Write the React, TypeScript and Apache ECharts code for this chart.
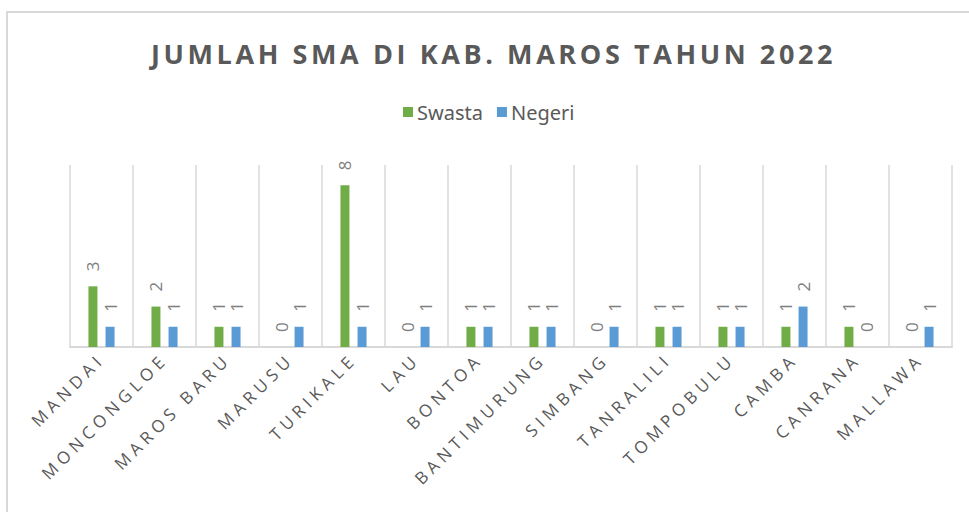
import React, { useEffect, useRef } from "react";
import * as echarts from "echarts";

const titleText = "JUMLAH SMA DI KAB. MAROS TAHUN 2022";
const categories = [
  "MANDAI",
  "MONCONGLOE",
  "MAROS BARU",
  "MARUSU",
  "TURIKALE",
  "LAU",
  "BONTOA",
  "BANTIMURUNG",
  "SIMBANG",
  "TANRALILI",
  "TOMPOBULU",
  "CAMBA",
  "CANRANA",
  "MALLAWA",
];
const swasta = [3, 2, 1, 0, 8, 0, 1, 1, 0, 1, 1, 1, 1, 0];
const negeri = [1, 1, 1, 1, 1, 1, 1, 1, 1, 1, 1, 2, 0, 1];

function applySpacing(el: HTMLElement) {
  const texts = el.querySelectorAll("text");
  texts.forEach((t) => {
    const s = (t.textContent || "").trim();
    if (s === titleText) t.setAttribute("letter-spacing", "3.6");
    else if (categories.indexOf(s) >= 0) t.setAttribute("letter-spacing", "4.8");
  });
}

export default function App() {
  const ref = useRef<HTMLDivElement>(null);
  useEffect(() => {
    if (!ref.current) return;
    const chart = echarts.init(ref.current, undefined, { renderer: "svg" });
    const labelCommon = {
      show: true,
      position: "top" as const,
      rotate: 90,
      align: "left" as const,
      verticalAlign: "middle" as const,
      distance: 15,
      fontSize: 17,
      fontFamily: "Open Sans",
      color: "#7f7f7f",
    };
    chart.setOption({
      animation: false,
      backgroundColor: "#ffffff",
      title: {
        text: titleText,
        left: 146,
        top: 35,
        textStyle: {
          fontFamily: "Open Sans",
          fontWeight: "bold",
          fontSize: 27,
          color: "#595959",
        },
      },
      legend: {
        top: 97,
        left: 398,
        itemWidth: 10,
        itemHeight: 10,
        itemGap: 14,
        icon: "rect",
        textStyle: {
          fontFamily: "Noto Sans",
          fontSize: 20,
          color: "#595959",
          padding: [0, 0, 0, -1],
        },
        data: ["Swasta", "Negeri"],
      },
      graphic: [
        {
          type: "rect",
          shape: { x: 7, y: 12, width: 980, height: 520 },
          style: { fill: "none", stroke: "#d9d9d9", lineWidth: 2 },
          silent: true,
        },
      ],
      grid: { left: 70, right: 17, top: 165, bottom: 165, containLabel: false },
      xAxis: {
        type: "category",
        data: categories,
        axisLine: { show: true, lineStyle: { color: "#d9d9d9", width: 2 } },
        axisTick: { show: false },
        splitLine: { show: true, lineStyle: { color: "#d9d9d9", width: 1.5 } },
        axisLabel: {
          interval: 0,
          rotate: 45,
          margin: 9,
          fontFamily: "Open Sans",
          fontSize: 17,
          color: "#595959",
        },
      },
      yAxis: {
        type: "value",
        min: 0,
        max: 9,
        interval: 1,
        axisLine: { show: false },
        axisTick: { show: false },
        axisLabel: { show: false },
        splitLine: { show: false },
      },
      series: [
        {
          name: "Swasta",
          type: "bar",
          data: swasta,
          barWidth: 9,
          barGap: "90%",
          itemStyle: { color: "#70ad47" },
          label: labelCommon,
        },
        {
          name: "Negeri",
          type: "bar",
          data: negeri,
          barWidth: 9,
          barGap: "90%",
          itemStyle: { color: "#5b9bd5" },
          label: labelCommon,
        },
      ],
    });
    applySpacing(ref.current);
    const el = ref.current;
    const onFinished = () => applySpacing(el);
    chart.on("finished", onFinished);
    return () => {
      chart.off("finished", onFinished);
      chart.dispose();
    };
  }, []);
  return (
    <div
      ref={ref}
      style={{ position: "fixed", left: 0, top: 0, width: 969, height: 512 }}
    />
  );
}
